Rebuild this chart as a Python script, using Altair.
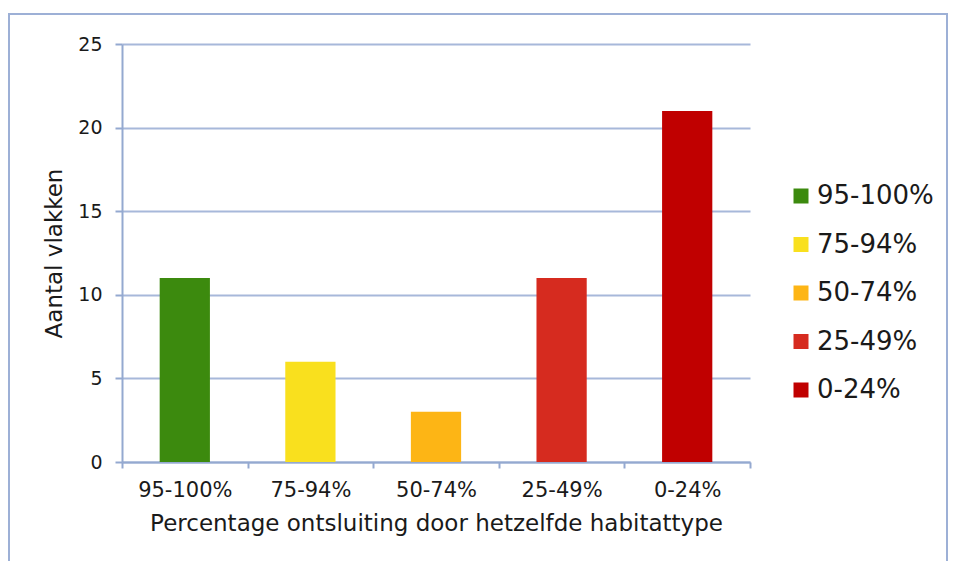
import altair as alt
import pandas as pd

categories = ["95-100%", "75-94%", "50-74%", "25-49%", "0-24%"]
counts = [11, 6, 3, 11, 21]
colors = ["#3c8a0e", "#f9e01e", "#fdb515", "#d62b1f", "#c00000"]
y_ticks = [0, 5, 10, 15, 20, 25]

df = pd.DataFrame({"cat": categories, "n": counts})

AX = "#94a9d0"
GRID = "#a7b8da"
FONT = "DejaVu Sans"
TXT = "#1a1a1a"

bars = alt.Chart(df).mark_bar(width=alt.RelativeBandSize(0.4)).encode(
    x=alt.X(
        "cat:N",
        sort=categories,
        scale=alt.Scale(paddingInner=0, paddingOuter=0),
        axis=alt.Axis(
            title="Percentage ontsluiting door hetzelfde habitattype",
            labelAngle=0,
            tickBand="extent",
            tickSize=6,
            tickWidth=2,
            tickColor=AX,
            domainColor=AX,
            domainWidth=2,
            grid=False,
            labelFont=FONT,
            labelFontSize=21,
            labelColor=TXT,
            labelPadding=11,
            titleFont=FONT,
            titleFontSize=23,
            titleFontWeight="normal",
            titleColor=TXT,
            titlePadding=12,
        ),
    ),
    y=alt.Y(
        "n:Q",
        scale=alt.Scale(domain=[0, 25], nice=False),
        axis=alt.Axis(
            title="Aantal vlakken",
            values=y_ticks,
            tickSize=7,
            tickWidth=2,
            tickColor=AX,
            domainColor=AX,
            domainWidth=2,
            grid=True,
            gridColor=GRID,
            gridWidth=2,
            labelFont=FONT,
            labelFontSize=19,
            labelColor=TXT,
            labelPadding=13,
            titleFont=FONT,
            titleFontSize=23,
            titleFontWeight="normal",
            titleColor=TXT,
            titlePadding=11,
        ),
    ),
    color=alt.Color(
        "cat:N",
        sort=categories,
        scale=alt.Scale(domain=categories, range=colors),
        legend=alt.Legend(
            title=None,
            orient="none",
            legendX=666,
            legendY=139,
            symbolType="square",
            symbolSize=225,
            symbolStrokeWidth=0,
            labelFont=FONT,
            labelFontSize=26,
            labelColor=TXT,
            labelOffset=3,
            rowPadding=22.5,
        ),
    ),
)

frame = alt.Chart(pd.DataFrame({"a": [0]})).mark_rect(
    filled=False, stroke="#9db0d6", strokeWidth=2
).encode(
    x=alt.value(-113), x2=alt.value(825), y=alt.value(-30), y2=alt.value(560)
)

chart = alt.layer(frame, bars).properties(
    width=628,
    height=418,
    autosize=alt.AutoSizeParams(type="none"),
    padding={"left": 114, "top": 36, "right": 198, "bottom": 99},
).configure_view(stroke=None)

chart.save("out.html", embed_options={"renderer": "svg", "actions": False})
